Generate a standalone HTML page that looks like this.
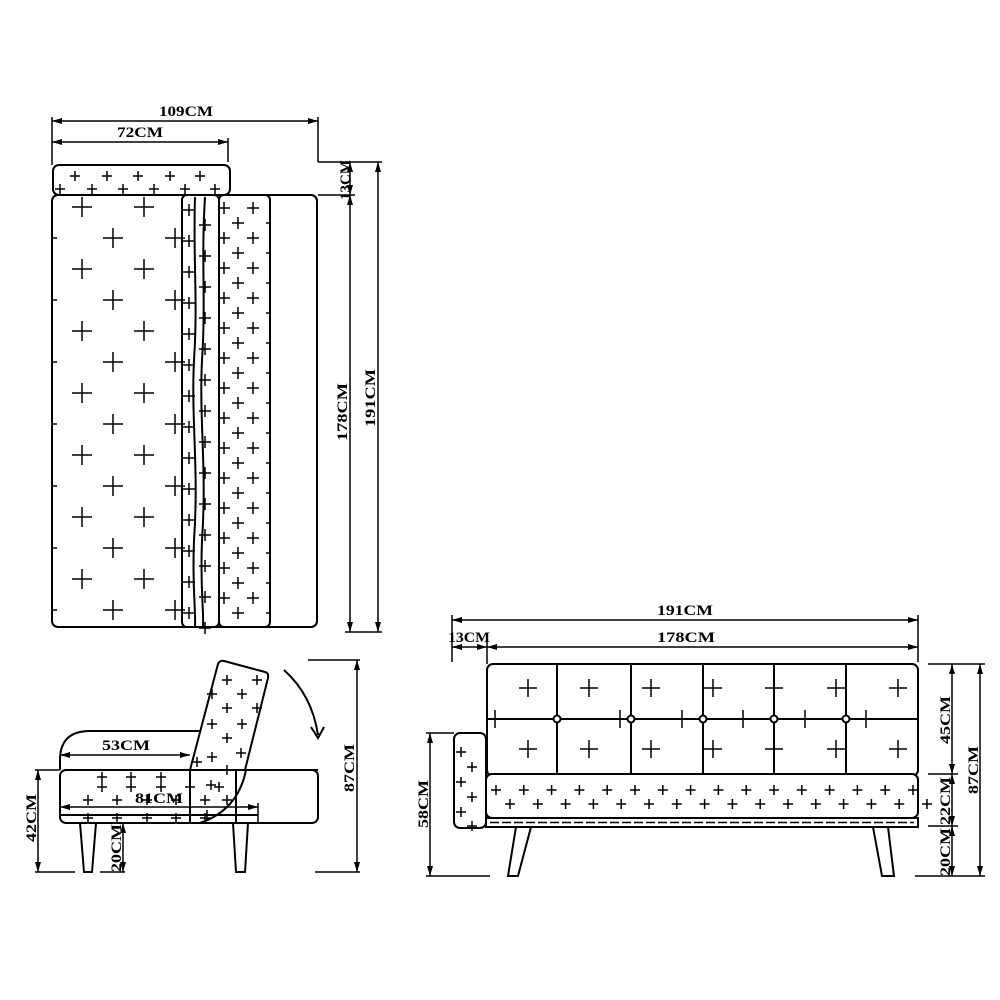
<!DOCTYPE html>
<html><head><meta charset="utf-8"><style>
html,body{margin:0;padding:0;background:#fff}
svg{display:block}
text{font-family:"Liberation Serif",serif;font-weight:bold;font-size:15px;fill:#000}
</style></head><body>
<svg id="s" width="1000" height="1000" viewBox="0 0 1000 1000" xmlns="http://www.w3.org/2000/svg">
<defs>
<marker id="a" viewBox="0 0 10 6" refX="10" refY="3" markerWidth="10" markerHeight="6" orient="auto-start-reverse" markerUnits="userSpaceOnUse"><path d="M0,0 L10,3 L0,6 z" fill="#000"/></marker>
</defs>
<g fill="none" stroke="#000" stroke-width="2">
<rect x="53" y="165" width="177" height="30" rx="6"/>
<rect x="52" y="195" width="265" height="432" rx="6"/>
<rect x="182" y="195" width="37" height="432" rx="5"/>
<path d="M195,197 C193,260 198,300 194,360 C191,420 199,470 194,540 C192,590 196,610 195,627"/>
<path d="M205,197 C201,260 206,300 202,360 C199,420 207,470 202,540 C200,590 204,610 203,627"/>
<rect x="219" y="195" width="51" height="432" rx="5"/>
<g stroke-width="1.5">
<line x1="52" y1="121" x2="318" y2="121" marker-start="url(#a)" marker-end="url(#a)"/>
<line x1="52" y1="142" x2="228" y2="142" marker-start="url(#a)" marker-end="url(#a)"/>
<line x1="52" y1="117" x2="52" y2="165"/>
<line x1="318" y1="117" x2="318" y2="162"/>
<line x1="318" y1="162" x2="382" y2="162"/>
<line x1="228" y1="138" x2="228" y2="162"/>
<line x1="318" y1="195" x2="355" y2="195"/>
<line x1="345" y1="632" x2="382" y2="632"/>
<line x1="350" y1="162" x2="350" y2="195" marker-start="url(#a)" marker-end="url(#a)"/>
<line x1="350" y1="195" x2="350" y2="632" marker-start="url(#a)" marker-end="url(#a)"/>
<line x1="378" y1="162" x2="378" y2="632" marker-start="url(#a)" marker-end="url(#a)"/>
</g>
<path d="M60,770 L60,760 Q60,731 90,731 L215,731 Q236,731 236,752 L236,823"/>
<rect x="60" y="770" width="258" height="53" rx="6"/>
<line x1="60" y1="815" x2="258" y2="815"/>
<line x1="190" y1="770" x2="190" y2="823"/>
<path d="M246,770 Q238,810 200,823"/>
<path d="M190,770 L218,664 Q220,660 224,661 L265,672 Q269,673 268,678 L245,770" fill="#fff"/>
<line x1="190" y1="770" x2="318" y2="770"/>
<path d="M80,823 L84,872 L92,872 L96,823"/>
<path d="M233,823 L236,872 L245,872 L248,823"/>
<path d="M284,670 Q312,695 318,735" />
<path d="M311,727 L318,738 L324,727"/>
<g stroke-width="1.5">
<line x1="60" y1="755" x2="190" y2="755" marker-start="url(#a)" marker-end="url(#a)"/>
<line x1="60" y1="807" x2="258" y2="807" marker-start="url(#a)" marker-end="url(#a)"/>
<line x1="258" y1="803" x2="258" y2="823"/>
<line x1="38" y1="770" x2="38" y2="872" marker-start="url(#a)" marker-end="url(#a)"/>
<line x1="35" y1="770" x2="60" y2="770"/>
<line x1="35" y1="872" x2="75" y2="872"/>
<line x1="123" y1="823" x2="123" y2="872" marker-start="url(#a)" marker-end="url(#a)"/>
<line x1="100" y1="872" x2="125" y2="872"/>
<line x1="357" y1="660" x2="357" y2="872" marker-start="url(#a)" marker-end="url(#a)"/>
<line x1="308" y1="660" x2="360" y2="660"/>
<line x1="315" y1="872" x2="360" y2="872"/>
</g>
<rect x="487" y="664" width="431" height="112" rx="6"/>
<line x1="487" y1="719" x2="918" y2="719"/>
<g id="div"></g>
<rect x="486" y="774" width="432" height="44" rx="6" fill="#fff"/>
<rect x="486" y="818" width="432" height="9" stroke-width="2"/>
<line x1="490" y1="822.5" x2="914" y2="822.5" stroke-width="1.5" stroke-dasharray="9,3"/>
<rect x="454" y="733" width="32" height="95" rx="6"/>
<path d="M516,827 L508,876 L518,876 L531,827"/>
<path d="M873,827 L882,876 L894,876 L888,827"/>
<g stroke-width="1.5">
<line x1="452" y1="620" x2="918" y2="620" marker-start="url(#a)" marker-end="url(#a)"/>
<line x1="452" y1="647" x2="487" y2="647" marker-start="url(#a)" marker-end="url(#a)"/>
<line x1="487" y1="647" x2="918" y2="647" marker-start="url(#a)" marker-end="url(#a)"/>
<line x1="452" y1="615" x2="452" y2="662"/>
<line x1="487" y1="642" x2="487" y2="664"/>
<line x1="918" y1="615" x2="918" y2="662"/>
<line x1="928" y1="664" x2="985" y2="664"/>
<line x1="928" y1="774" x2="958" y2="774"/>
<line x1="928" y1="826" x2="958" y2="826"/>
<line x1="915" y1="876" x2="985" y2="876"/>
<line x1="952" y1="664" x2="952" y2="774" marker-start="url(#a)" marker-end="url(#a)"/>
<line x1="952" y1="774" x2="952" y2="826" marker-start="url(#a)" marker-end="url(#a)"/>
<line x1="952" y1="826" x2="952" y2="876" marker-start="url(#a)" marker-end="url(#a)"/>
<line x1="980" y1="664" x2="980" y2="876" marker-start="url(#a)" marker-end="url(#a)"/>
<line x1="430" y1="733" x2="430" y2="876" marker-start="url(#a)" marker-end="url(#a)"/>
<line x1="426" y1="733" x2="454" y2="733"/>
<line x1="426" y1="876" x2="490" y2="876"/>
</g>
<g id="p" stroke-width="1.5"></g>
</g>
<text x="159" y="116" textLength="54" lengthAdjust="spacingAndGlyphs">109CM</text>
<text x="117" y="137" textLength="46" lengthAdjust="spacingAndGlyphs">72CM</text>
<text transform="translate(350,180) rotate(-90)" text-anchor="middle">13CM</text>
<text transform="translate(347,385) rotate(-90)" x="0" y="0" textLength="58" lengthAdjust="spacingAndGlyphs" text-anchor="start" dx="-29" dy="0"></text>
<text transform="translate(347,441) rotate(-90)" textLength="58" lengthAdjust="spacingAndGlyphs">178CM</text>
<text transform="translate(375,427) rotate(-90)" textLength="58" lengthAdjust="spacingAndGlyphs">191CM</text>
<text x="102" y="750" textLength="48" lengthAdjust="spacingAndGlyphs">53CM</text>
<text x="135" y="803" textLength="48" lengthAdjust="spacingAndGlyphs">81CM</text>
<text transform="translate(36,842) rotate(-90)" textLength="48" lengthAdjust="spacingAndGlyphs">42CM</text>
<text transform="translate(121,872) rotate(-90)" textLength="48" lengthAdjust="spacingAndGlyphs">20CM</text>
<text transform="translate(354,792) rotate(-90)" textLength="48" lengthAdjust="spacingAndGlyphs">87CM</text>
<text x="657" y="615" textLength="56" lengthAdjust="spacingAndGlyphs">191CM</text>
<text x="657" y="642" textLength="58" lengthAdjust="spacingAndGlyphs">178CM</text>
<text x="448" y="642" textLength="42" lengthAdjust="spacingAndGlyphs">13CM</text>
<text transform="translate(950,744) rotate(-90)" textLength="48" lengthAdjust="spacingAndGlyphs">45CM</text>
<text transform="translate(950,825) rotate(-90)" textLength="48" lengthAdjust="spacingAndGlyphs">22CM</text>
<text transform="translate(950,876) rotate(-90)" textLength="48" lengthAdjust="spacingAndGlyphs">20CM</text>
<text transform="translate(978,794) rotate(-90)" textLength="48" lengthAdjust="spacingAndGlyphs">87CM</text>
<text transform="translate(428,828) rotate(-90)" textLength="48" lengthAdjust="spacingAndGlyphs">58CM</text>
</svg>
<script>
var NS="http://www.w3.org/2000/svg",g=document.getElementById('p'),d=document.getElementById('div');
function L(p,x1,y1,x2,y2){var l=document.createElementNS(NS,'line');l.setAttribute('x1',x1);l.setAttribute('y1',y1);l.setAttribute('x2',x2);l.setAttribute('y2',y2);p.appendChild(l);}
function P(x,y,s){L(g,x-s,y,x+s,y);L(g,x,y-s,x,y+s);}
for(var r=0;r<7;r++){var y=207+r*62;P(82,y,10);P(144,y,10);var y2=238+r*62;if(y2<620){P(113,y2,10);P(175,y2,10);L(g,52,y2,57,y2);}}
for(var y=210;y<625;y+=31){P(189,y,6);P(205,y+15,6);}
for(var y=208;y<625;y+=30){P(224,y,6);P(253,y,6);P(238,y+15,6);L(g,266,y+15,270,y+15);}
[75,107,138,170,200].forEach(function(x){P(x,176,5)});[60,92,123,154,185,215].forEach(function(x){P(x,189,5)});
[102,131,161,190,219].forEach(function(x){P(x,787,5)});[88,117,147,176,205].forEach(function(x){P(x,800,5);P(x,818,5)});
[102,131,161].forEach(function(x){P(x,777,5)});
[[227,680],[257,680],[242,694],[212,694],[227,708],[257,708],[242,724],[212,724],[227,738],[241,753],[197,762],[212,757],[227,770],[211,785],[227,800],[207,815]].forEach(function(p){P(p[0],p[1],5)});
[557,631,703,774,846].forEach(function(x){L(d,x,664,x,774);var c=document.createElementNS(NS,'circle');c.setAttribute('cx',x);c.setAttribute('cy',719);c.setAttribute('r',3.5);c.setAttribute('fill','#fff');d.appendChild(c);});
[528,589,651,713,774,836,898].forEach(function(x){P(x,688,9);P(x,749,9);});
[495,620,682,743,805,866].forEach(function(x){L(g,x,710,x,728);});
for(var x=496;x<915;x+=27.8){P(x,790,5);P(x+14,804,5);}
[[461,752],[472,767],[461,782],[472,797],[461,812],[472,826]].forEach(function(p){P(p[0],p[1],5)});
</script>
</body></html>
